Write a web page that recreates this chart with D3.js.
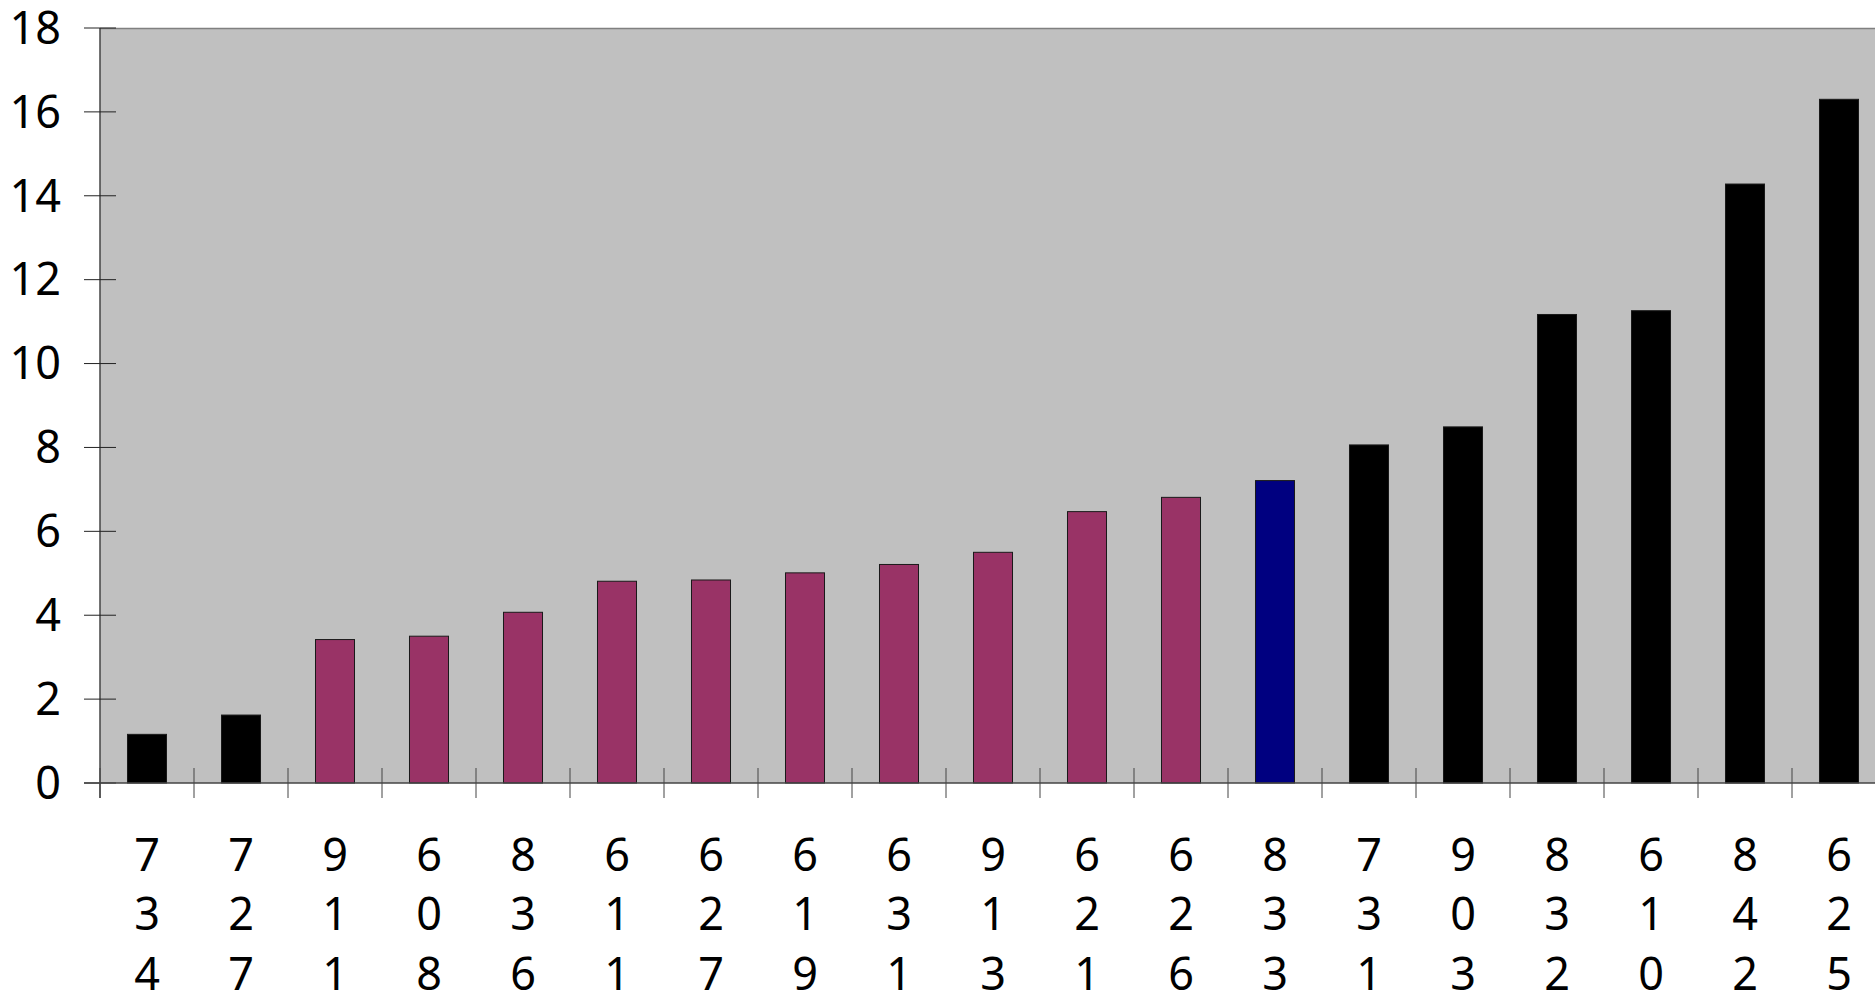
<!DOCTYPE html>
<html><head><meta charset="utf-8">
<script src="https://cdn.jsdelivr.net/npm/d3@7"></script>
<style>html,body{margin:0;padding:0;background:#fff;overflow:hidden}</style>
</head><body>
<svg id="c" width="1875" height="995"></svg>
<script>
const categories = ["734","727","911","608","836","611","627","619","631","913","621","626","833","731","903","832","610","842","625"];
const values = [1.16,1.62,3.42,3.50,4.07,4.81,4.84,5.01,5.21,5.50,6.47,6.81,7.21,8.06,8.49,11.17,11.26,14.28,16.30];
const barColors = ["#000000","#000000","#993366","#993366","#993366","#993366","#993366","#993366","#993366","#993366","#993366","#993366","#000080","#000000","#000000","#000000","#000000","#000000","#000000"];
const yTicks = [0,2,4,6,8,10,12,14,16,18];

(function(){
const svg = d3.select("#c");
const mL = 100, mT = 28, mB = 783, mR = 1886;
const font = "'Noto Sans', 'Open Sans', sans-serif";

const x = d3.scaleBand().domain(categories).range([mL, mR]).paddingInner(0.585).paddingOuter(0.2925);
const xb = d3.scaleBand().domain(categories).range([mL, mR]);
const y = d3.scaleLinear().domain([0, 18]).range([mB, mT]);

svg.append("rect").attr("x", mL).attr("y", mT).attr("width", 1875 - mL).attr("height", mB - mT).attr("fill", "#c0c0c0");
svg.append("line").attr("x1", mL).attr("x2", 1875).attr("y1", mT + 0.5).attr("y2", mT + 0.5).attr("stroke", "#808080").attr("stroke-width", 1.5);

svg.append("g").selectAll("rect").data(categories).join("rect")
  .attr("x", d => x(d))
  .attr("y", (d, i) => y(values[i]))
  .attr("width", x.bandwidth())
  .attr("height", (d, i) => y(0) - y(values[i]))
  .attr("fill", (d, i) => barColors[i])
  .attr("stroke", "#1a1a1a").attr("stroke-width", 1);

const ya = svg.append("g");
ya.append("line").attr("x1", mL).attr("x2", mL).attr("y1", mT).attr("y2", mB + 15).attr("stroke", "#444").attr("stroke-width", 1.5);
ya.selectAll("line.t").data(yTicks).join("line").attr("class", "t")
  .attr("x1", mL - 16).attr("x2", mL + 16).attr("y1", d => y(d)).attr("y2", d => y(d))
  .attr("stroke", "#222").attr("stroke-width", 1);
ya.selectAll("text").data(yTicks).join("text")
  .attr("x", 61).attr("y", d => y(d)).attr("dy", "0.35em")
  .attr("text-anchor", "end").attr("font-family", font).attr("font-size", 45).attr("fill", "#000")
  .text(d => d);

const xa = svg.append("g");
xa.append("line").attr("x1", mL - 16).attr("x2", 1875).attr("y1", mB).attr("y2", mB).attr("stroke", "#444").attr("stroke-width", 1.5);
const bounds = categories.map(c => xb(c)).concat([xb.range()[1]]);
xa.selectAll("line.t").data(bounds).join("line").attr("class", "t")
  .attr("x1", d => d).attr("x2", d => d).attr("y1", mB - 15).attr("y2", mB + 15)
  .attr("stroke", "#444").attr("stroke-width", 1);
const lab = xa.selectAll("text").data(categories).join("text")
  .attr("text-anchor", "middle").attr("font-family", font).attr("font-size", 45).attr("fill", "#000");
lab.each(function(d) {
  const t = d3.select(this);
  d.split("").forEach((ch, k) => {
    t.append("tspan").attr("x", xb(d) + xb.bandwidth() / 2).attr("y", 855 + k * 59.5).attr("dy", "0.35em").text(ch);
  });
});
})();
</script>
</body></html>
